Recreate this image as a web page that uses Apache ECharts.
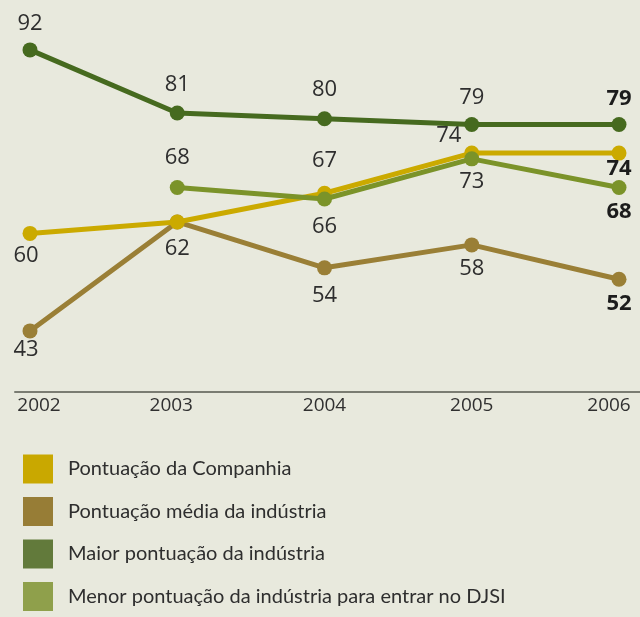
<!DOCTYPE html>
<html>
<head>
<meta charset="utf-8">
<script src="https://cdn.jsdelivr.net/npm/echarts@6/dist/echarts.min.js"></script>
<style>
  html, body { margin: 0; padding: 0; background: #e8e9dd; }
  #chart { width: 640px; height: 617px; }
</style>
</head>
<body>
<div id="chart"></div>
<script>
// dados
const years = ['2002', '2003', '2004', '2005', '2006'];
const companhia = [60, 62, 67, 74, 74];
const media = [43, 62, 54, 58, 52];
const maior = [92, 81, 80, 79, 79];
const menor = [null, 68, 66, 73, 68];

const names = [
  'Pontuação da Companhia',
  'Pontuação média da indústria',
  'Maior pontuação da indústria',
  'Menor pontuação da indústria para entrar no DJSI'
];

// onde fica cada rótulo (p = posição, d = distância, dx = deslocamento, b = negrito)
const T = { p: 'top', d: 10 };
const B = { p: 'bottom', d: 5 };
const labelsCompanhia = [{ p: 'bottom', d: 4, dx: -4 }, null, { p: 'top', d: 14 }, { p: 'top', d: -1, dx: -23 }, { p: 'bottom', d: -3, b: 1 }];
const labelsMedia = [{ p: 'bottom', d: 0, dx: -4 }, { p: 'bottom', d: 8 }, { p: 'bottom', d: 9 }, B, { p: 'bottom', d: 6, b: 1 }];
const labelsMaior = [{ p: 'top', d: 8 }, T, T, { p: 'top', d: 8 }, { p: 'top', d: 7, b: 1 }];
const labelsMenor = [null, { p: 'top', d: 11 }, { p: 'bottom', d: 9 }, { p: 'bottom', d: 4 }, { p: 'bottom', d: 6, b: 1 }];

function buildData(values, specs) {
  return values.map((v, i) => {
    const s = specs[i];
    if (v == null) return null;
    if (!s) return { value: v, label: { show: false } };
    return {
      value: v,
      label: {
        show: true,
        position: s.p,
        distance: s.d,
        offset: [s.dx || 0, 0],
        fontWeight: s.b ? 'bold' : 'normal',
        color: s.b ? '#1c1c1c' : '#2e2e2e'
      }
    };
  });
}

function line(name, values, specs, color, z) {
  return {
    type: 'line',
    name: name,
    data: buildData(values, specs),
    xAxisIndex: 0,
    yAxisIndex: 0,
    z: z,
    symbol: 'circle',
    symbolSize: 15,
    connectNulls: false,
    lineStyle: { width: 5, color: color },
    itemStyle: { color: color },
    label: { fontFamily: 'Open Sans', fontSize: 22, lineHeight: 22 },
    emphasis: { disabled: true },
    animation: false
  };
}

// deslocamento horizontal dos anos no eixo
const yearShift = [18, -12, 0, 0, -20];

const chart = echarts.init(document.getElementById('chart'));

chart.setOption({
  backgroundColor: '#e8e9dd',
  animation: false,
  grid: [
    { left: 30, right: 21, top: 4, bottom: 225 },
    { left: 15, right: 0, top: 4, bottom: 225 }
  ],
  xAxis: [
    {
      gridIndex: 0,
      type: 'category',
      data: years,
      boundaryGap: false,
      axisLine: { show: false },
      axisTick: { show: false },
      axisLabel: {
        margin: 4,
        interval: 0,
        formatter: (v, i) => '{y' + i + '|' + v + '}',
        rich: Object.fromEntries(yearShift.map((s, i) => [
          'y' + i,
          {
            fontFamily: 'Open Sans',
            fontSize: 19,
            color: '#303030',
            padding: s > 0 ? [0, 0, 0, s] : [0, -s, 0, 0]
          }
        ]))
      }
    },
    {
      gridIndex: 1,
      type: 'value',
      min: 0,
      max: 1,
      axisLine: { show: true, lineStyle: { color: '#7a7c72', width: 2 } },
      axisTick: { show: false },
      axisLabel: { show: false },
      splitLine: { show: false }
    }
  ],
  yAxis: [
    { gridIndex: 0, type: 'value', min: 32.35, max: 100, show: false },
    { gridIndex: 1, type: 'value', min: 0, max: 1, show: false }
  ],
  legend: {
    orient: 'vertical',
    left: 23,
    top: 450,
    padding: 0,
    itemWidth: 30,
    itemHeight: 29,
    itemGap: 4.5,
    icon: 'rect',
    selectedMode: false,
    data: [
      { name: names[0], itemStyle: { color: '#c9a800' } },
      { name: names[1], itemStyle: { color: '#977d36' } },
      { name: names[2], itemStyle: { color: '#627a3b' } },
      { name: names[3], itemStyle: { color: '#8fa04b' } }
    ],
    textStyle: {
      fontFamily: 'Lato',
      fontSize: 20,
      lineHeight: 22,
      color: '#2e2e2e',
      padding: [16, 0, 0, 10]
    }
  },
  series: [
    line(names[1], media, labelsMedia, '#9a7f36', 2),
    line(names[0], companhia, labelsCompanhia, '#cbaa00', 3),
    line(names[3], menor, labelsMenor, '#7b9329', 4),
    line(names[2], maior, labelsMaior, '#466a1f', 5)
  ]
});
</script>
</body>
</html>
